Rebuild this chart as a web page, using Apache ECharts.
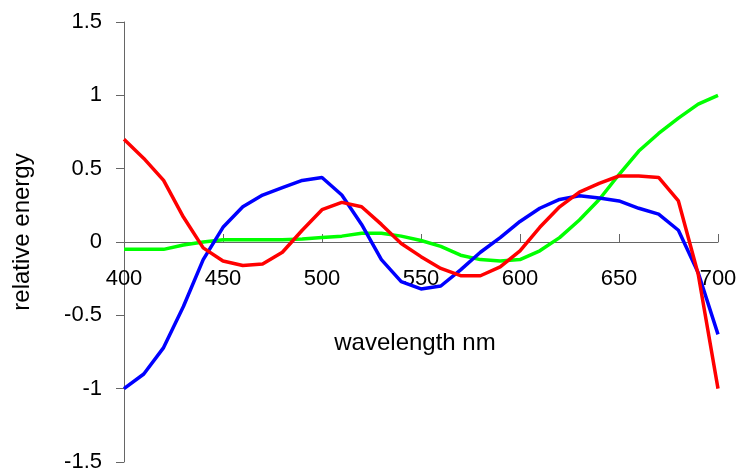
<!DOCTYPE html>
<html>
<head>
<meta charset="utf-8">
<script src="https://cdn.jsdelivr.net/npm/echarts@6/dist/echarts.min.js"></script>
<style>
  html, body { margin: 0; padding: 0; background: #fff; }
  #chart { width: 739px; height: 470px; }
</style>
</head>
<body>
<div id="chart"></div>
<script>
// wavelengths, 10 nm steps
var wavelengths = [400, 410, 420, 430, 440, 450, 460, 470, 480, 490, 500,
  510, 520, 530, 540, 550, 560, 570, 580, 590, 600,
  610, 620, 630, 640, 650, 660, 670, 680, 690, 700]

var redValues = [0.70, 0.57, 0.42, 0.17, -0.04, -0.13, -0.16, -0.15, -0.07, 0.08, 0.22,
  0.27, 0.24, 0.12, -0.01, -0.10, -0.18, -0.23, -0.23, -0.17, -0.06,
  0.10, 0.24, 0.34, 0.40, 0.45, 0.45, 0.44, 0.28, -0.22, -1.00]

var blueValues = [-1.00, -0.90, -0.72, -0.44, -0.12, 0.10, 0.24, 0.32, 0.37, 0.42, 0.44,
  0.32, 0.12, -0.12, -0.27, -0.32, -0.30, -0.19, -0.07, 0.03, 0.14,
  0.23, 0.29, 0.315, 0.30, 0.28, 0.23, 0.19, 0.08, -0.21, -0.63]

var greenValues = [-0.05, -0.05, -0.05, -0.02, 0.00, 0.015, 0.015, 0.015, 0.015, 0.02, 0.03,
  0.04, 0.06, 0.06, 0.04, 0.01, -0.03, -0.09, -0.12, -0.13, -0.12,
  -0.06, 0.03, 0.15, 0.29, 0.46, 0.62, 0.74, 0.845, 0.94, 1.00]

function pairs(values) {
  return wavelengths.map(function (w, i) { return [w, values[i]] })
}

var font = '"Liberation Sans", Arial, sans-serif'
var axisColor = '#666'

var chart = echarts.init(document.getElementById('chart'))
chart.setOption({
  animation: false,
  // grid 0 holds the curves, grid 1 is the upper half only so its bottom
  // edge sits on y = 0 and carries the wavelength axis with its labels
  grid: [
    { left: 124, right: 21, top: 22, bottom: 8, outerBoundsMode: 'none' },
    { left: 124, right: 21, top: 22, bottom: 228, outerBoundsMode: 'none' }
  ],
  xAxis: [
    {
      gridIndex: 0,
      type: 'value',
      min: 400,
      max: 700,
      interval: 50,
      show: false
    },
    {
      gridIndex: 1,
      type: 'value',
      position: 'bottom',
      min: 400,
      max: 700,
      interval: 50,
      axisLine: { onZero: false, lineStyle: { color: axisColor, width: 1 } },
      axisTick: { inside: true, length: 8, lineStyle: { color: axisColor } },
      axisLabel: { margin: 26, color: '#000', fontSize: 22, fontFamily: font },
      splitLine: { show: false }
    }
  ],
  yAxis: [
    {
      gridIndex: 0,
      type: 'value',
      min: -1.5,
      max: 1.5,
      interval: 0.5,
      axisLine: { show: true, onZero: false, lineStyle: { color: axisColor, width: 1 } },
      axisTick: { show: true, length: 8, lineStyle: { color: axisColor } },
      axisLabel: { margin: 22, color: '#000', fontSize: 22, fontFamily: font },
      splitLine: { show: false }
    },
    {
      gridIndex: 1,
      type: 'value',
      min: 0,
      max: 1.5,
      show: false
    }
  ],
  graphic: [
    {
      type: 'text',
      x: 22,
      y: 232,
      rotation: Math.PI / 2,
      style: {
        text: 'relative energy',
        fill: '#000',
        font: '24px ' + font,
        textAlign: 'center',
        textVerticalAlign: 'middle'
      }
    },
    {
      type: 'text',
      x: 415,
      y: 343,
      style: {
        text: 'wavelength nm',
        fill: '#000',
        font: '24px ' + font,
        textAlign: 'center',
        textVerticalAlign: 'middle'
      }
    }
  ],
  series: [
    {
      name: 'green',
      type: 'line',
      data: pairs(greenValues),
      showSymbol: false,
      lineStyle: { color: '#00ff00', width: 3.5 }
    },
    {
      name: 'blue',
      type: 'line',
      data: pairs(blueValues),
      showSymbol: false,
      lineStyle: { color: '#0000ff', width: 3.5 }
    },
    {
      name: 'red',
      type: 'line',
      data: pairs(redValues),
      showSymbol: false,
      lineStyle: { color: '#ff0000', width: 3.5 }
    }
  ]
})
</script>
</body>
</html>
